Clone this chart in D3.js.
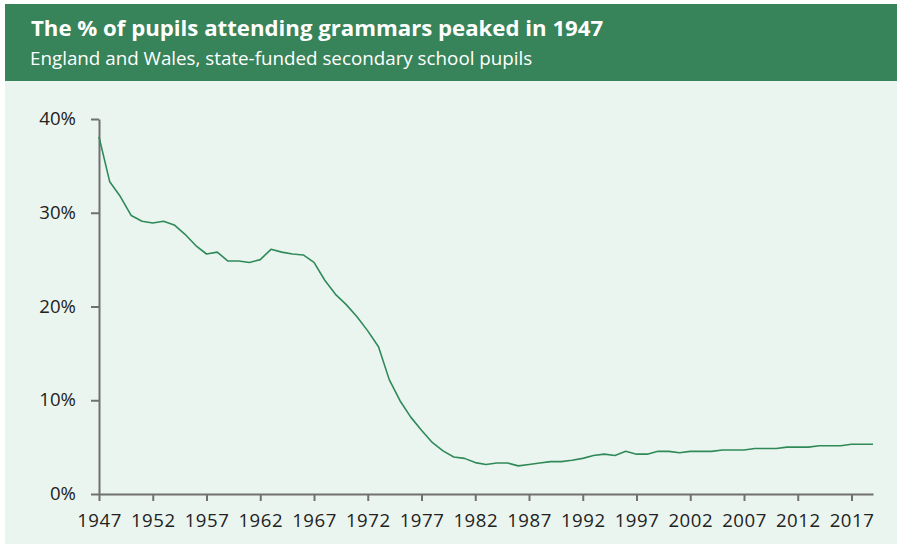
<!DOCTYPE html>
<html>
<head>
<meta charset="utf-8">
<script src="https://cdn.jsdelivr.net/npm/d3@7"></script>
<style>
  body { margin: 0; background: #fff; }
  svg text { font-family: "Open Sans", sans-serif; }
</style>
</head>
<body>
<div id="chart"></div>
<script>
const title = "The % of pupils attending grammars peaked in 1947";
const subtitle = "England and Wales, state-funded secondary school pupils";

const firstYear = 1947;
const lastYear = 2019;
// share of pupils at grammar schools, %, one value per year 1947..2019
const share = [
    38.1, 33.3, 31.7, 29.7, 29.1, 28.9, 29.1, 28.7, 27.7, 26.5,
    25.6, 25.8, 24.85, 24.85, 24.7, 25.0, 26.1, 25.8, 25.6, 25.5,
    24.7, 22.8, 21.3, 20.2, 18.9, 17.4, 15.7, 12.2, 9.95, 8.2,
    6.8, 5.5, 4.6, 3.95, 3.8, 3.35, 3.15, 3.3, 3.3, 3.0,
    3.15, 3.3, 3.45, 3.45, 3.6, 3.8, 4.1, 4.25, 4.1, 4.55,
    4.25, 4.25, 4.55, 4.55, 4.4, 4.55, 4.55, 4.55, 4.7, 4.7,
    4.7, 4.85, 4.85, 4.85, 5.0, 5.0, 5.0, 5.15, 5.15, 5.15,
    5.3, 5.3, 5.3
];
const xTicks = [1947, 1952, 1957, 1962, 1967, 1972, 1977, 1982, 1987, 1992, 1997, 2002, 2007, 2012, 2017];
const yTicks = [0, 10, 20, 30, 40];

const data = share.map((v, i) => ({year: firstYear + i, value: v}));

const W = 897, H = 545;
const margin = {top: 119, right: 24, bottom: 51, left: 99};
const width = W - margin.left - margin.right;
const height = H - margin.top - margin.bottom;

const svg = d3.select("#chart")
    .append("svg")
    .attr("width", W)
    .attr("height", H);

// panel background and header band
svg.append("rect")
    .attr("x", 5).attr("y", 4)
    .attr("width", W - 5).attr("height", 540)
    .attr("fill", "#ebf5ef");

svg.append("rect")
    .attr("x", 5).attr("y", 4)
    .attr("width", W - 5).attr("height", 77)
    .attr("fill", "#37845a");

svg.append("text")
    .attr("x", 31).attr("y", 36)
    .attr("fill", "#fff")
    .attr("font-size", 22.2)
    .attr("font-weight", 700)
    .text(title);

svg.append("text")
    .attr("x", 30).attr("y", 65)
    .attr("fill", "#fff")
    .attr("font-size", 18.8)
    .text(subtitle);

const g = svg.append("g")
    .attr("transform", `translate(${margin.left},${margin.top})`);

const xScale = d3.scaleLinear().domain([firstYear, lastYear]).range([0, width]);
const yScale = d3.scaleLinear().domain([0, 40]).range([height, 0]);

const xAxis = g.append("g")
    .attr("transform", `translate(0,${height})`)
    .call(d3.axisBottom(xScale)
        .tickValues(xTicks)
        .tickFormat(d3.format("d"))
        .tickSize(7)
        .tickSizeOuter(0)
        .tickPadding(13));

const yAxis = g.append("g")
    .call(d3.axisLeft(yScale)
        .tickValues(yTicks)
        .tickFormat(d => d + "%")
        .tickSize(8)
        .tickSizeOuter(0)
        .tickPadding(15));

[xAxis, yAxis].forEach(ax => {
    ax.selectAll("path, line")
        .attr("stroke", "#707070")
        .attr("stroke-width", 2);
    ax.selectAll("text")
        .attr("fill", "#222")
        .attr("font-size", 18.6)
        .attr("font-family", "Open Sans, sans-serif");
});

xAxis.selectAll("text").attr("letter-spacing", 0.5);
yAxis.selectAll("text").attr("dy", "0.3em");

const line = d3.line()
    .x(d => xScale(d.year))
    .y(d => yScale(d.value));

g.append("path")
    .datum(data)
    .attr("fill", "none")
    .attr("stroke", "#2f8a58")
    .attr("stroke-width", 1.6)
    .attr("stroke-linejoin", "round")
    .attr("d", line);
</script>
</body>
</html>
